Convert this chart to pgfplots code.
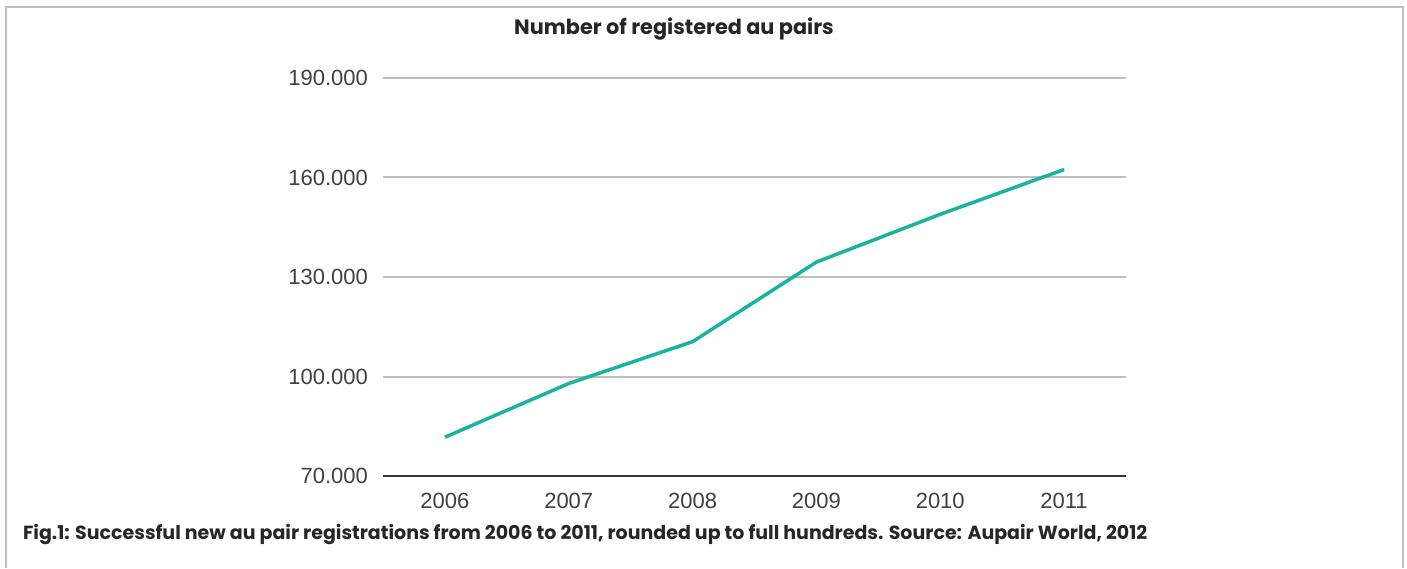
\documentclass[border=0pt]{standalone}
\usepackage{pgfplots}
\pgfplotsset{compat=1.18}
\usepackage{fontspec}
\setmainfont{Liberation Sans}
\newfontfamily\capfont{Poppins}
\definecolor{teal1}{HTML}{1AB39F}
\definecolor{gridg}{HTML}{BFBFBF}
\definecolor{axisd}{HTML}{333333}
\definecolor{txt}{HTML}{404040}
\begin{document}
\begin{tikzpicture}
\useasboundingbox (0pt,0pt) rectangle (703.5pt,284pt);
\draw[gridg, line width=1pt] (3pt,0pt) -- (3pt,280.5pt) -- (701.5pt,280.5pt) -- (701.5pt,0pt);
\node[anchor=center, font=\capfont\bfseries\fontsize{10.4}{12}\selectfont, text=black!85] at (337pt,269.5pt) {Number of registered au pairs};
\node[anchor=west, font=\capfont\bfseries\fontsize{9.5}{11}\selectfont, text=black!85] at (8pt,17pt) {Fig.1: Successful new au pair registrations from 2006 to 2011, rounded up to full hundreds. Source: Aupair World, 2012};
\begin{axis}[
  at={(191.5pt,46pt)}, anchor=south west,
  scale only axis, width=371.5pt, height=199pt,
  xmin=-0.5, xmax=5.5, ymin=70000, ymax=190000,
  scaled y ticks=false,
  xtick={0,1,2,3,4,5}, xticklabels={2006,2007,2008,2009,2010,2011},
  ytick={70000,100000,130000,160000,190000},
  yticklabels={70.000,100.000,130.000,160.000,190.000},
  axis x line*=bottom, axis y line*=left,
  y axis line style={draw=none},
  x axis line style={axisd, line width=1.25pt, -},
  major tick length=0pt,
  ymajorgrids, grid style={gridg, line width=1pt},
  tick label style={font=\fontsize{11}{13}\selectfont, text=txt},
  xticklabel style={yshift=-5pt},
  yticklabel style={xshift=-4pt},
  clip=false,
]
\addplot[teal1, line width=1.75pt] coordinates {
 (0,81700) (1,97900) (2,110500) (3,134500) (4,148900) (5,162400)};
\end{axis}
\end{tikzpicture}
\end{document}
